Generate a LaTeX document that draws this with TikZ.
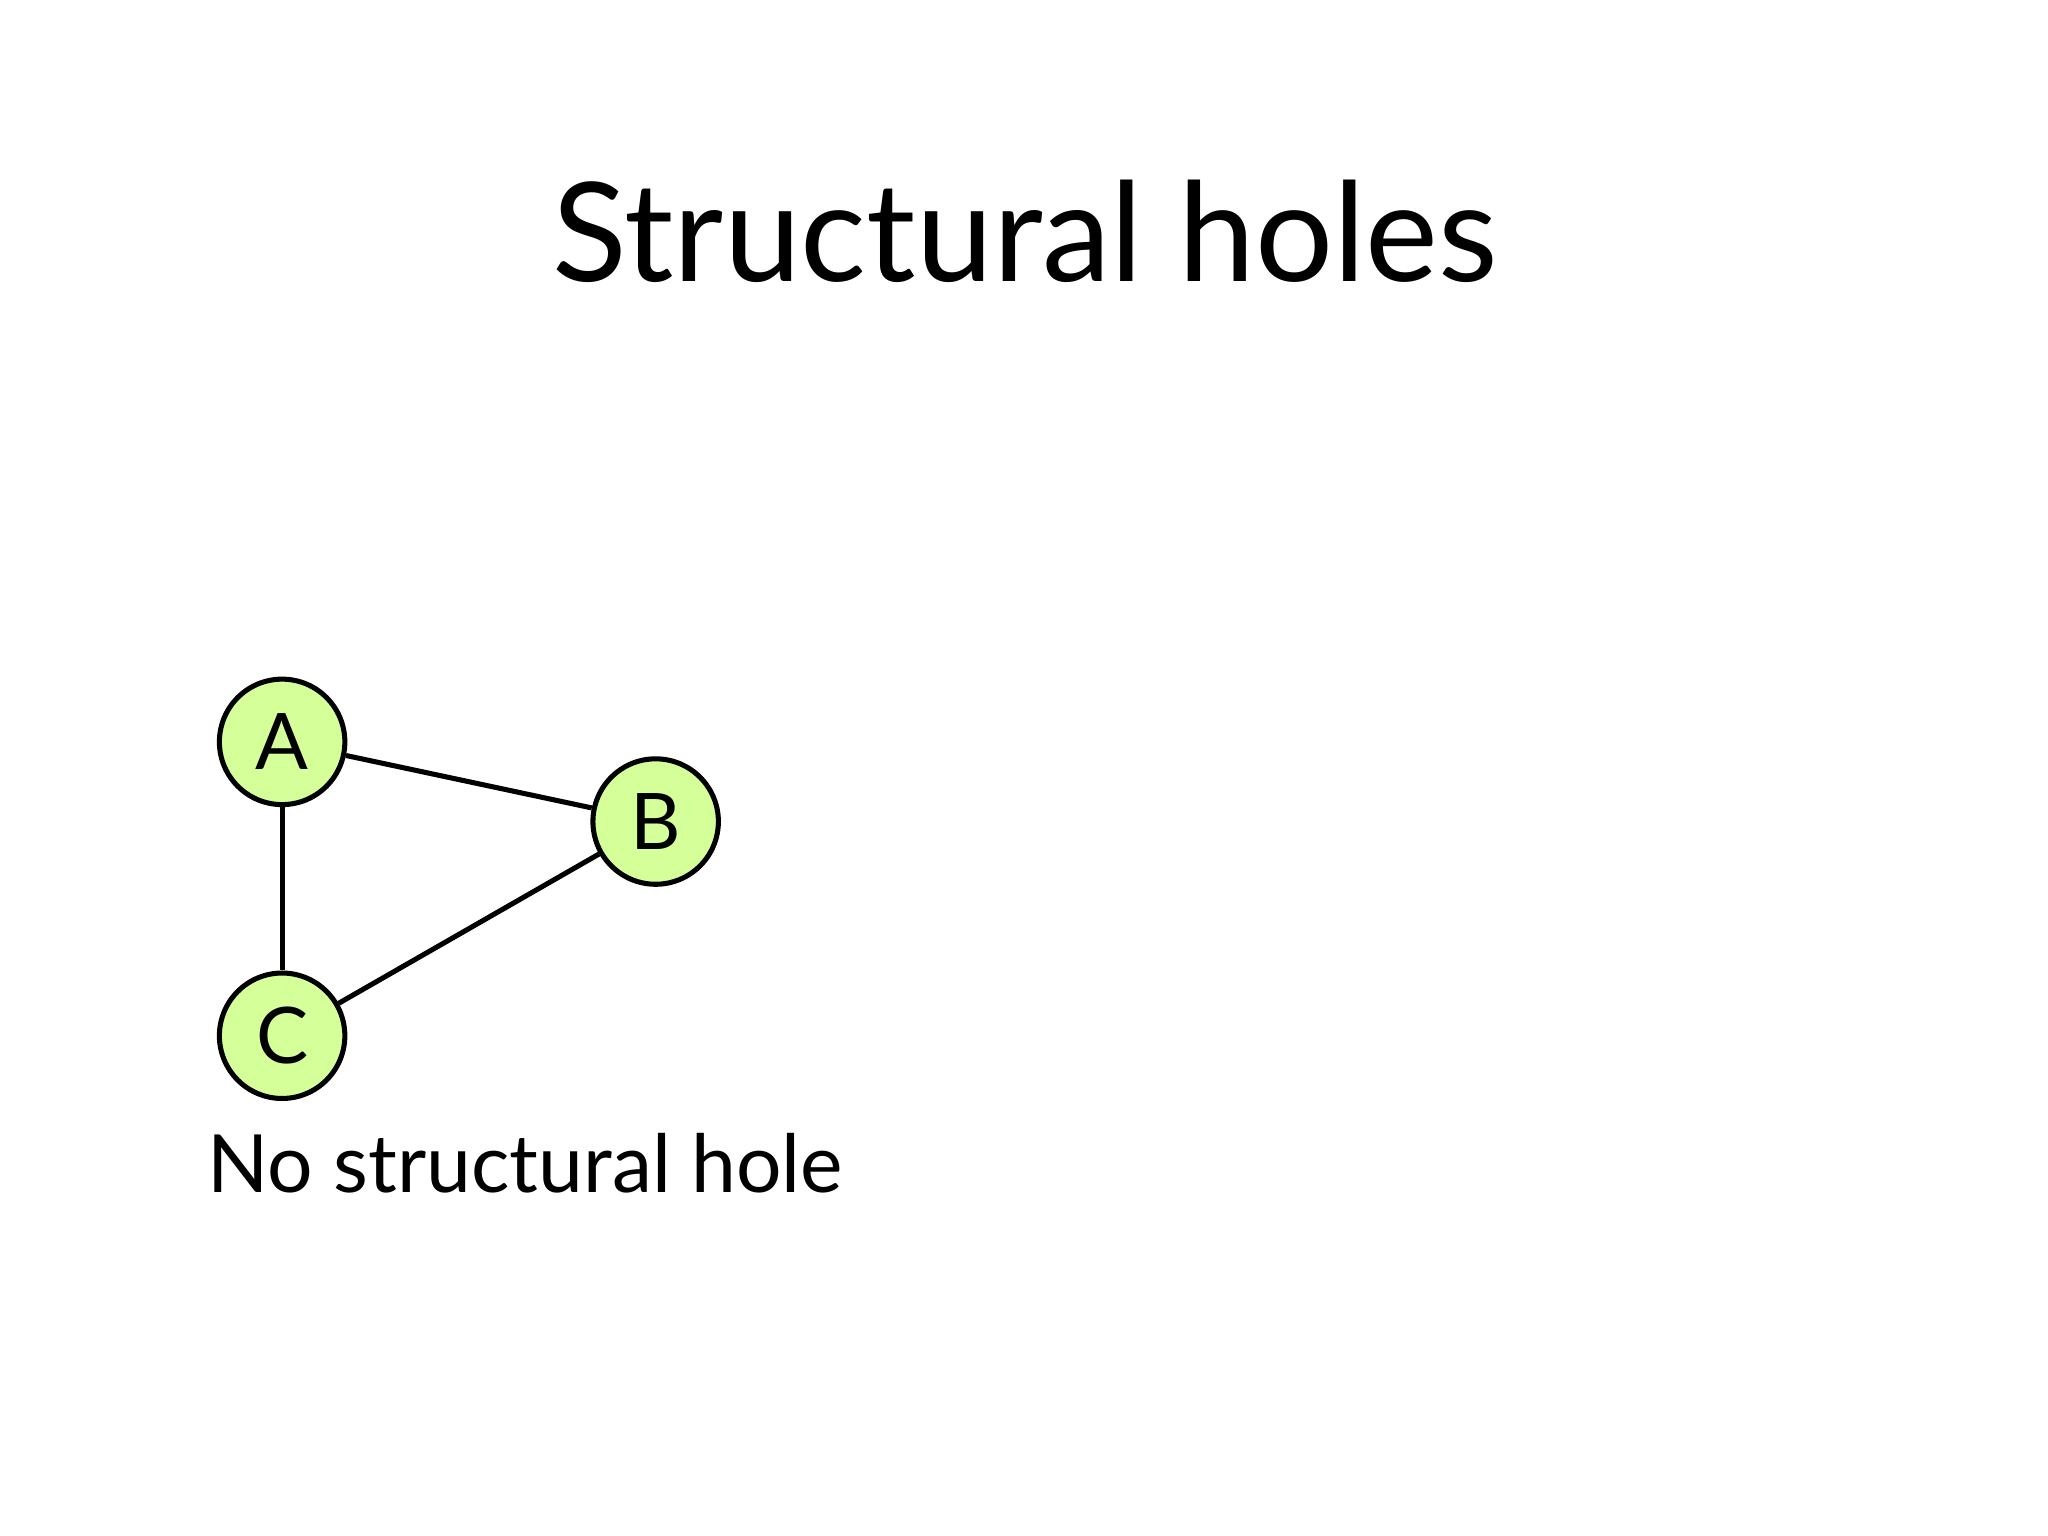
\documentclass[tikz,border=0pt]{standalone}
\usepackage{fontspec}
\setmainfont{Lato}
\definecolor{nodegreen}{HTML}{D4FF99}
\begin{document}
\begin{tikzpicture}[x=0.01cm,y=-0.01cm,
  vert/.style={circle,draw=black,line width=1.1pt,fill=nodegreen,minimum size=0.96cm,inner sep=0pt,font=\fontsize{17}{20}\selectfont},
  edge/.style={line width=1.1pt}]
\useasboundingbox (0,0) rectangle (1568,1176);
\node[font=\fontsize{30}{36}\selectfont] (title) at (785,177) {Structural holes};
\node[vert] (A) at (216,568) {A};
\node[vert] (B) at (502,629) {B};
\node[vert] (C) at (216,793) {C};
\draw[edge] (A) -- (B);
\draw[edge] (A) -- (C);
\draw[edge] (C) -- (B);
\node[anchor=base west,inner sep=0pt,font=\fontsize{17.5}{21}\selectfont] (lab) at (158,913) {No structural hole};
\end{tikzpicture}
\end{document}
